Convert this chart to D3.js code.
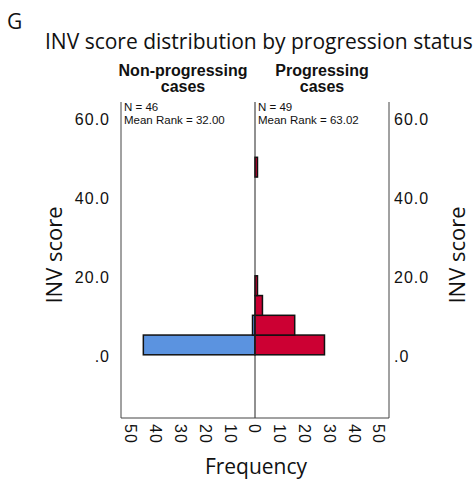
<!DOCTYPE html>
<html>
<head>
<meta charset="utf-8">
<script src="https://cdn.jsdelivr.net/npm/d3@7"></script>
<style>
  body { margin: 0; background: #fff; }
  text { fill: #111; }
</style>
</head>
<body>
<div id="chart"></div>
<script>
// histogram bins (INV score, width 5) and counts per group
const binStarts = [0, 5, 10, 15, 20, 25, 30, 35, 40, 45];
const binWidth = 5;
const nonProgressing = [45, 1, 0, 0, 0, 0, 0, 0, 0, 0];
const progressing = [28, 16, 3, 1, 0, 0, 0, 0, 0, 1];
const yTicks = [0, 20, 40, 60];
const xTicks = [0, 10, 20, 30, 40, 50];
const groupNames = [["Non-progressing", "cases"], ["Progressing", "cases"]];
const groupStats = [["N = 46", "Mean Rank = 32.00"], ["N = 49", "Mean Rank = 63.02"]];

const svg = d3.select("#chart").append("svg")
    .attr("width", 476)
    .attr("height", 483);

const frame = { top: 102, bottom: 418, left: 121, mid: 255, right: 389 };

const yScale = d3.scaleLinear().domain([-16, 64]).range([frame.bottom, frame.top]);
const xLeft = d3.scaleLinear().domain([0, 54]).range([frame.mid, frame.left]);
const xRight = d3.scaleLinear().domain([0, 54]).range([frame.mid, frame.right]);

const sansArial = "'Liberation Sans', Arial, sans-serif";
const sansTitle = "'Open Sans', 'Noto Sans', sans-serif";

// panel letter + title
svg.append("text").attr("x", 7).attr("y", 29)
    .style("font-family", sansTitle).style("font-size", "21px").text("G");
svg.append("text").attr("x", 45).attr("y", 49)
    .style("font-family", sansTitle).style("font-size", "21px")
    .text("INV score distribution by progression status");

// group headers
[183, 322].forEach(function (cx, i) {
    groupNames[i].forEach(function (line, j) {
        svg.append("text")
            .attr("x", cx).attr("y", 76 + j * 16)
            .attr("text-anchor", "middle")
            .style("font-family", sansArial).style("font-size", "16px").style("font-weight", "bold")
            .text(line);
    });
    groupStats[i].forEach(function (line, j) {
        svg.append("text")
            .attr("x", (i === 0 ? frame.left : frame.mid) + 3).attr("y", 111 + j * 13)
            .style("font-family", sansArial).style("font-size", "11.5px")
            .text(line);
    });
});

// bars
function drawBars(counts, scale, color, leftSide) {
    svg.append("g").selectAll("rect")
        .data(counts.map(function (c, i) { return { start: binStarts[i], count: c }; }).filter(function (d) { return d.count > 0; }))
        .enter().append("rect")
        .attr("x", function (d) { return leftSide ? scale(d.count) : scale(0); })
        .attr("y", function (d) { return yScale(d.start + binWidth); })
        .attr("width", function (d) { return Math.abs(scale(d.count) - scale(0)); })
        .attr("height", function (d) { return yScale(d.start) - yScale(d.start + binWidth); })
        .attr("fill", color)
        .attr("stroke", "#111")
        .attr("stroke-width", 1.5);
}
drawBars(nonProgressing, xLeft, "#5b93e0", true);
drawBars(progressing, xRight, "#cc0033", false);

// frame lines
const lineColor = "#444";
[frame.left, frame.mid, frame.right].forEach(function (x) {
    svg.append("line").attr("x1", x).attr("x2", x)
        .attr("y1", frame.top).attr("y2", frame.bottom)
        .attr("stroke", x === frame.mid ? "#222" : lineColor).attr("stroke-width", 1);
});
svg.append("line").attr("x1", frame.left).attr("x2", frame.right)
    .attr("y1", frame.bottom).attr("y2", frame.bottom)
    .attr("stroke", lineColor).attr("stroke-width", 1);

// y tick labels, both sides
const yFmt = function (v) { return v === 0 ? ".0" : v.toFixed(1); };
yTicks.forEach(function (v) {
    svg.append("text").attr("x", 110).attr("y", yScale(v) + 2).attr("dy", "0.35em")
        .attr("text-anchor", "end")
        .style("font-family", sansArial).style("font-size", "16px").style("letter-spacing", "1px")
        .text(yFmt(v));
    svg.append("text").attr("x", 394).attr("y", yScale(v) + 2).attr("dy", "0.35em")
        .style("font-family", sansArial).style("font-size", "16px").style("letter-spacing", "1px")
        .text(yFmt(v));
});

// x tick labels, rotated
function xLabels(scale, skipZero) {
    xTicks.forEach(function (v) {
        if (skipZero && v === 0) return;
        const x = scale(v);
        svg.append("text")
            .attr("transform", "translate(" + x + ",424) rotate(90)")
            .attr("dy", "0.35em")
            .style("font-family", sansArial).style("font-size", "16px").style("letter-spacing", "1px")
            .text(v);
    });
}
xLabels(xLeft, false);
xLabels(xRight, true);

// axis titles
svg.append("text").attr("transform", "translate(62,255) rotate(-90)")
    .attr("text-anchor", "middle")
    .style("font-family", sansTitle).style("font-size", "22px").text("INV score");
svg.append("text").attr("transform", "translate(465,255) rotate(-90)")
    .attr("text-anchor", "middle")
    .style("font-family", sansTitle).style("font-size", "22px").text("INV score");
svg.append("text").attr("x", 256).attr("y", 474)
    .attr("text-anchor", "middle")
    .style("font-family", sansTitle).style("font-size", "21px").text("Frequency");
</script>
</body>
</html>
